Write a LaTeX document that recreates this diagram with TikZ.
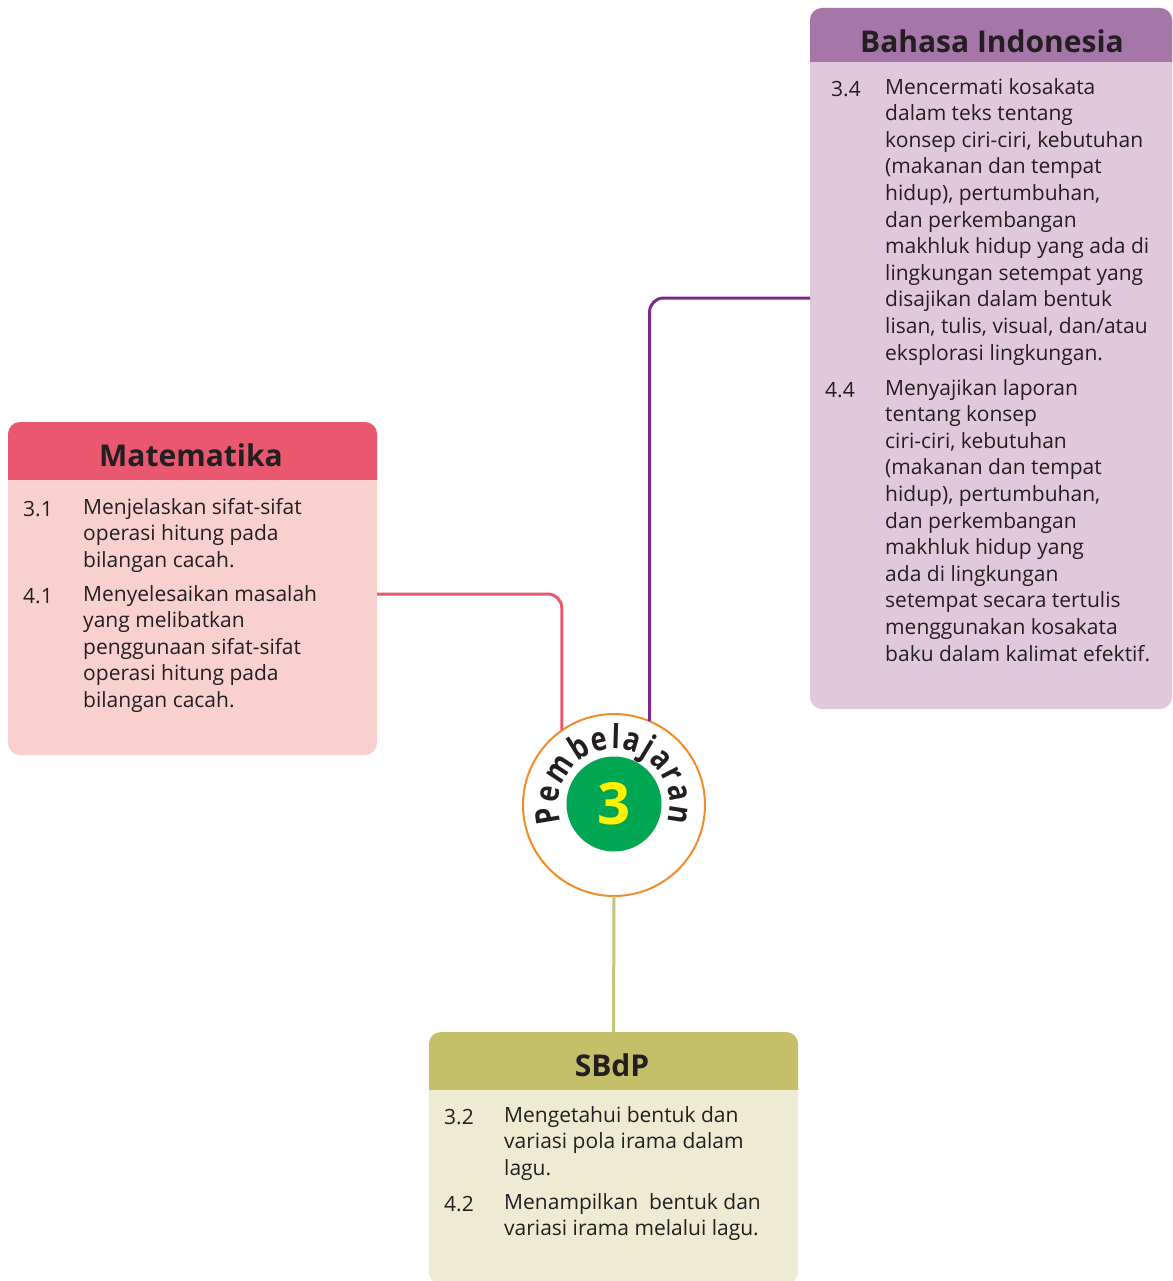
\documentclass[tikz,border=0pt]{standalone}
\usepackage{fontspec}
\setmainfont{Open Sans}
\newfontfamily\arcfont{Open Sans}[FakeStretch=0.82]
\usetikzlibrary{decorations.text}

\definecolor{ink}{RGB}{35,31,32}
\definecolor{mathead}{RGB}{233,88,110}
\definecolor{matbody}{RGB}{248,209,207}
\definecolor{bihead}{RGB}{165,119,168}
\definecolor{bibody}{RGB}{226,200,220}
\definecolor{biline}{RGB}{125,43,139}
\definecolor{sbhead}{RGB}{198,191,105}
\definecolor{sbbody}{RGB}{238,235,211}
\definecolor{sbline}{RGB}{201,194,122}
\definecolor{ring}{RGB}{242,140,40}
\definecolor{badge}{RGB}{0,166,81}
\definecolor{badgenum}{RGB}{255,242,0}

\newcommand{\bodyfont}{\fontsize{21}{26.6}\selectfont}

\tikzset{
  boxbg/.style={rectangle, rounded corners=12pt, anchor=north west,
    inner sep=0pt, outer sep=0pt},
  boxtitle/.style={anchor=base, inner sep=0pt, text=ink,
    font=\fontsize{30}{32}\selectfont\bfseries},
  itemnum/.style={anchor=north west, inner sep=0pt, text=ink, font=\bodyfont,
    execute at begin node=\strut},
  itemtext/.style={anchor=north west, inner sep=0pt, align=left, text=ink,
    font=\bodyfont, execute at begin node=\strut},
  link/.style={line width=3pt, rounded corners=14pt},
}

\begin{document}
\begin{tikzpicture}[x=1pt,y=-1pt]
\useasboundingbox (0,0) rectangle (1172,1281);

% Matematika
\node[boxbg, fill=matbody, minimum width=369pt, minimum height=333pt] (mat) at (8,422) {};
\begin{scope}
  \clip (mat.north west) rectangle ([yshift=-57pt]mat.north east);
  \fill[mathead, rounded corners=12pt] (mat.north west) rectangle (mat.south east);
\end{scope}
\node[boxtitle] (matt) at (191,466) {Matematika};
\node[itemnum] (m31) at (23,498) {3.1};
\node[itemtext] (m31t) at (83,498) {Menjelaskan sifat-sifat\\operasi hitung pada\\bilangan cacah.};
\node[itemnum] (m41) at (23,585) {4.1};
\node[itemtext] (m41t) at (83,585) {Menyelesaikan masalah\\yang melibatkan\\penggunaan sifat-sifat\\operasi hitung pada\\bilangan cacah.};

% Bahasa Indonesia
\node[boxbg, fill=bibody, minimum width=362pt, minimum height=701pt] (bi) at (810,8) {};
\begin{scope}
  \clip (bi.north west) rectangle ([yshift=-54pt]bi.north east);
  \fill[bihead, rounded corners=12pt] (bi.north west) rectangle (bi.south east);
\end{scope}
\node[boxtitle] (bit) at (992,53) {Bahasa Indonesia};
\node[itemnum] (b34) at (831,78) {3.4};
\node[itemtext] (b34t) at (885,78) {Mencermati kosakata\\dalam teks tentang\\konsep ciri-ciri, kebutuhan\\(makanan dan tempat\\hidup), pertumbuhan,\\dan perkembangan\\makhluk hidup yang ada di\\lingkungan setempat yang\\disajikan dalam bentuk\\lisan, tulis, visual, dan/atau\\eksplorasi lingkungan.};
\node[itemnum] (b44) at (825,379) {4.4};
\node[itemtext] (b44t) at (885,379) {Menyajikan laporan\\tentang konsep\\ciri-ciri, kebutuhan\\(makanan dan tempat\\hidup), pertumbuhan,\\dan perkembangan\\makhluk hidup yang\\ada di lingkungan\\setempat secara tertulis\\menggunakan kosakata\\baku dalam kalimat efektif.};

% SBdP
\node[boxbg, fill=sbbody, minimum width=369pt, minimum height=252pt] (sb) at (429,1032) {};
\begin{scope}
  \clip (sb.north west) rectangle ([yshift=-57pt]sb.north east);
  \fill[sbhead, rounded corners=12pt] (sb.north west) rectangle (sb.south east);
\end{scope}
\node[boxtitle] (sbt) at (612,1076) {SBdP};
\node[itemnum] (s32) at (444,1106) {3.2};
\node[itemtext] (s32t) at (504,1106) {Mengetahui bentuk dan\\variasi pola irama dalam\\lagu.};
\node[itemnum] (s42) at (444,1193) {4.2};
\node[itemtext] (s42t) at (504,1193) {Menampilkan\ \ bentuk dan\\variasi irama melalui lagu.};

% Pembelajaran 3
\node[circle, draw=ring, line width=2pt, fill=white, minimum size=182pt,
  inner sep=0pt, outer sep=0pt] (pb) at (614,805) {};
\node[circle, fill=badge, minimum size=95pt, inner sep=0pt] (num) at (614,804)
  {\textcolor{badgenum}{\fontsize{58}{58}\selectfont\bfseries 3}};
\path[decorate, decoration={text along path, text align=fit to path,
  text={|\arcfont\fontsize{33}{33}\selectfont\bfseries\color{ink}|Pembelajaran}}]
  ([shift={(198:56pt)}]pb.center) arc[start angle=198, end angle=-18, radius=56pt];

% links
\coordinate (matout) at (377,594);
\coordinate (biout) at (810,298);
\draw[link, mathead] (matout) -| (pb.125.6);
\draw[link, biline] (biout) -| (pb.67.4);
\draw[link, sbline] (pb.south) -- (sb.north);
\end{tikzpicture}
\end{document}
